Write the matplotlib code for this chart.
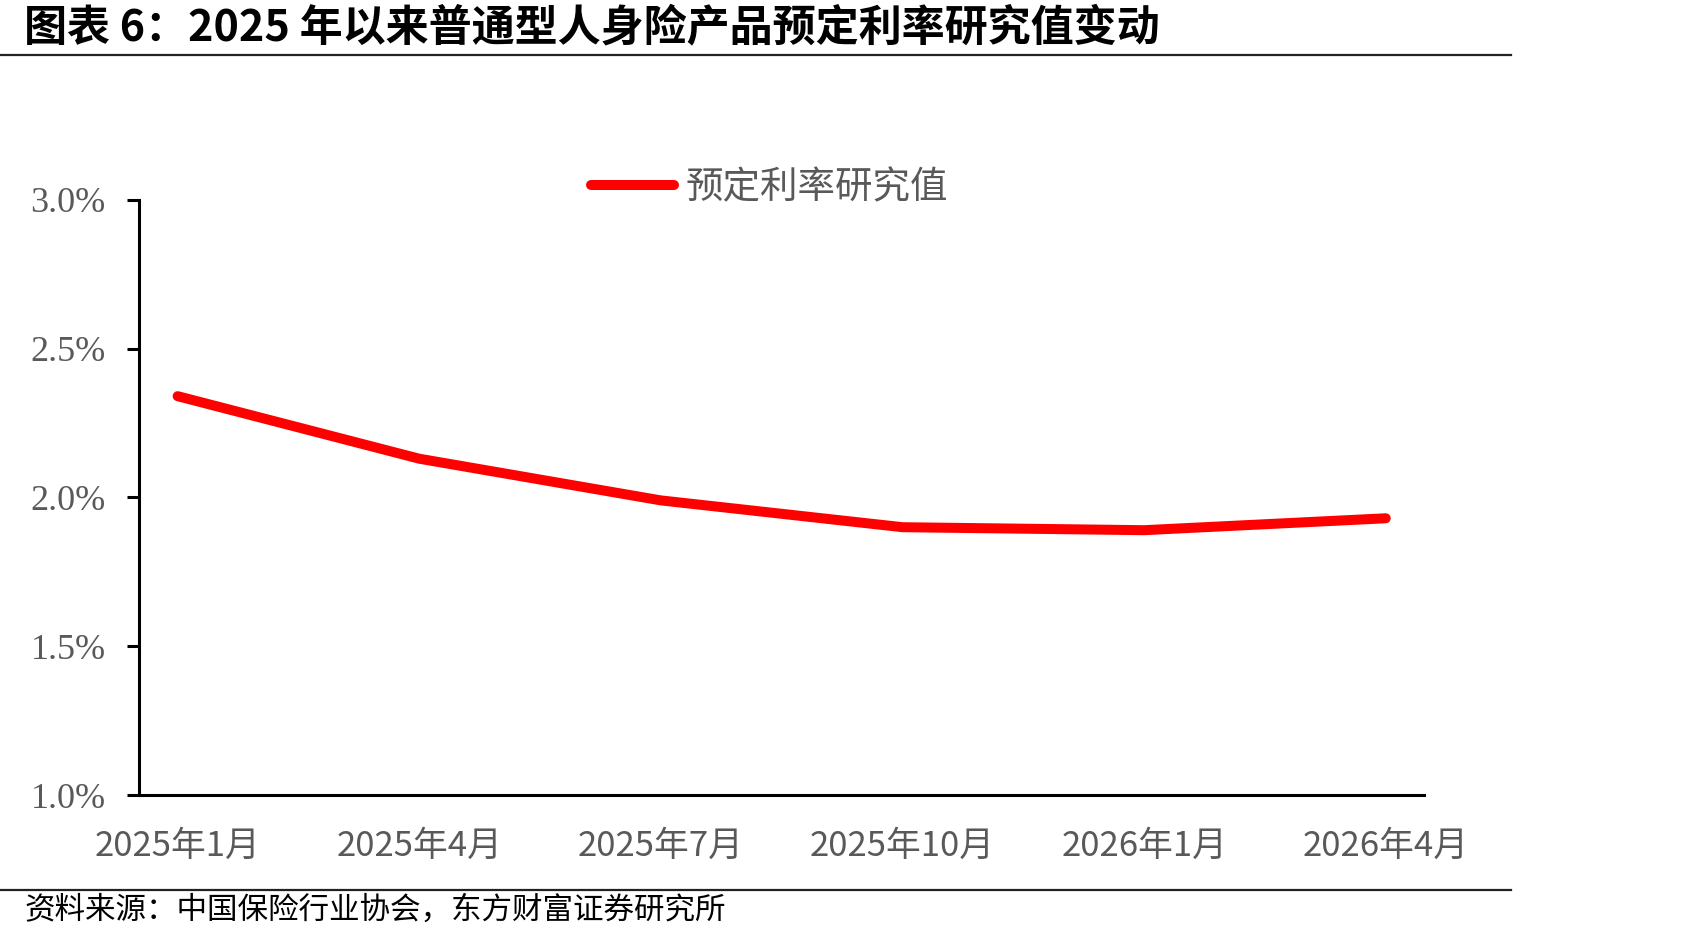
import matplotlib
matplotlib.use('Agg')
import matplotlib.pyplot as plt
from matplotlib.lines import Line2D

# data
months = ['2025年1月', '2025年4月', '2025年7月', '2025年10月', '2026年1月', '2026年4月']
rate = [2.34, 2.13, 1.99, 1.90, 1.89, 1.93]
yticks = [1.0, 1.5, 2.0, 2.5, 3.0]

title = '图表 6：2025 年以来普通型人身险产品预定利率研究值变动'
source = '资料来源：中国保险行业协会，东方财富证券研究所'
series_name = '预定利率研究值'

cjk = ['Noto Sans CJK SC', 'DejaVu Sans']
plt.rcParams['font.family'] = cjk

fig = plt.figure(figsize=(17.01, 9.42), dpi=100)
ax = fig.add_axes([0.0817, 0.1558, 0.7557, 0.6323])

x = list(range(len(months)))
ax.plot(x, rate, color='#ff0000', lw=7.2, solid_capstyle='round',
        solid_joinstyle='round', label=series_name)

ax.set_ylim(1.0, 3.0)
ax.set_xlim(-0.16, len(months) - 1 + 0.16)
ax.set_yticks(yticks)
ax.set_yticklabels(['%.1f%%' % v for v in yticks], family='Liberation Serif',
                   fontsize=26, color='#595959')
ax.set_xticks(x)
ax.set_xticklabels(months, family=['Liberation Sans Narrow', 'Noto Sans CJK SC'],
                   fontsize=25, color='#595959')
ax.tick_params(axis='y', length=9, width=2.2, pad=15, direction='out')
ax.tick_params(axis='x', length=0, pad=24)

for s in ['top', 'right']:
    ax.spines[s].set_visible(False)
for s in ['left', 'bottom']:
    ax.spines[s].set_linewidth(2.2)
    ax.spines[s].set_color('black')

leg = fig.legend(handles=[Line2D([], [], color='#ff0000', lw=7.2, solid_capstyle='round')],
                 labels=[series_name], loc='center', bbox_to_anchor=(0.4524, 0.8007),
                 frameon=False, fontsize=27, handlelength=2.2, handletextpad=0.3)
for t in leg.get_texts():
    t.set_color('#595959')

# title and rules
fig.text(24 / 1701, 1 - 27 / 942, title, fontsize=31, fontweight='bold',
         va='center', ha='left', color='black')
fig.add_artist(Line2D([0, 1511 / 1701], [1 - 55 / 942] * 2, color='#222222', lw=1.6))
fig.add_artist(Line2D([0, 1511 / 1701], [1 - 889.5 / 942] * 2, color='#222222', lw=1.6))
fig.text(24 / 1701, 1 - 910 / 942, source, fontsize=22, va='center', ha='left',
         color='black')

fig.savefig('out.png', dpi=100)
